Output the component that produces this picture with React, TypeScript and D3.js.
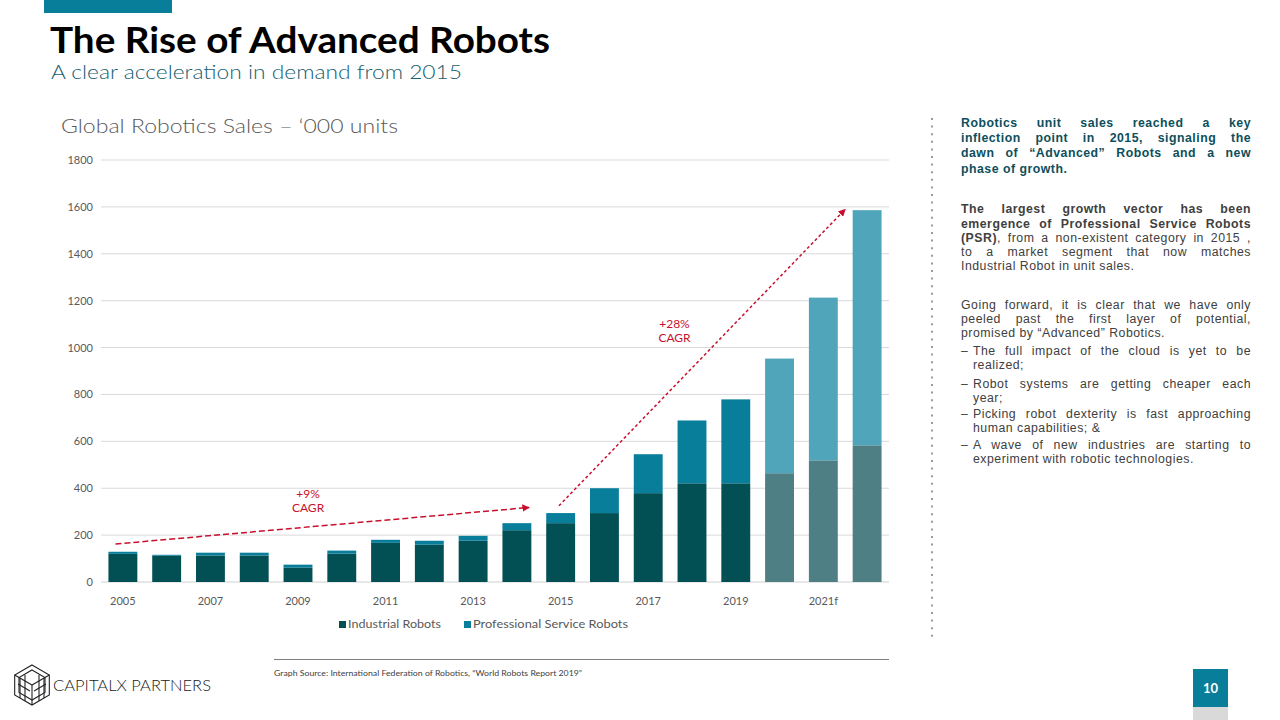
import React, { useEffect, useRef } from "react";
import * as d3 from "d3";

const categories = ["2005","2006","2007","2008","2009","2010","2011","2012","2013","2014","2015","2016","2017","2018","2019","2020f","2021f","2022f"];
const tickLabels = ["2005","2007","2009","2011","2013","2015","2017","2019","2021f"];
const industrial = [120,112,113,113,61,121,167,159,176,221,251,294,379,421,421,464,519,583];
const professional = [9,4,12,12,13,13,13,17,21,30,43,106,166,268,358,489,694,1003];
const forecast = [false,false,false,false,false,false,false,false,false,false,false,false,false,false,false,true,true,true];
const yTicks = [0,200,400,600,800,1000,1200,1400,1600,1800];

// CAGR annotations (category index position, value)
const arrows = [
  { x0: -0.17, y0: 162, x1: 9.28, y1: 318, dash: "6,3" },
  { x0: 9.96, y0: 325, x1: 16.5, y1: 1590, dash: "3,2.5" },
];
const cagrLabels = [
  { x: 4.23, y: 360, lines: ["+9%", "CAGR"] },
  { x: 12.6, y: 1085, lines: ["+28%", "CAGR"] },
];

const COLORS = {
  ind: "#024f54",
  psr: "#087e9b",
  indF: "#4d7f84",
  psrF: "#50a5ba",
  red: "#c8102e",
  grid: "#d9d9d9",
  axisText: "#595959",
};

type Seg = { t: string; b?: boolean };
type Line = { segs: Seg[]; x: number; y: number; j: boolean; color: string; dash?: boolean };

const RX = 961;
const RW = 290;
const IND = 12;
const para1Color = "#0d4f5c";
const bodyColor = "#404040";
const rightLines: Line[] = [
  { segs: [{ t: "Robotics unit sales reached a key", b: true }], x: RX, y: 127, j: true, color: para1Color },
  { segs: [{ t: "inflection point in 2015, signaling the", b: true }], x: RX, y: 142, j: true, color: para1Color },
  { segs: [{ t: "dawn of \u201CAdvanced\u201D Robots and a new", b: true }], x: RX, y: 157, j: true, color: para1Color },
  { segs: [{ t: "phase of growth.", b: true }], x: RX, y: 173, j: false, color: para1Color },
  { segs: [{ t: "The largest growth vector has been", b: true }], x: RX, y: 213, j: true, color: bodyColor },
  { segs: [{ t: "emergence of Professional Service Robots", b: true }], x: RX, y: 228, j: true, color: bodyColor },
  { segs: [{ t: "(PSR)", b: true }, { t: ", from a non-existent category in 2015 ," }], x: RX, y: 242, j: true, color: bodyColor },
  { segs: [{ t: "to a market segment that now matches" }], x: RX, y: 256, j: true, color: bodyColor },
  { segs: [{ t: "Industrial Robot in unit sales." }], x: RX, y: 270, j: false, color: bodyColor },
  { segs: [{ t: "Going forward, it is clear that we have only" }], x: RX, y: 309, j: true, color: bodyColor },
  { segs: [{ t: "peeled past the first layer of potential," }], x: RX, y: 323, j: true, color: bodyColor },
  { segs: [{ t: "promised by \u201CAdvanced\u201D Robotics." }], x: RX, y: 337, j: false, color: bodyColor },
  { segs: [{ t: "The full impact of the cloud is yet to be" }], x: RX + IND, y: 355, j: true, color: bodyColor, dash: true },
  { segs: [{ t: "realized;" }], x: RX + IND, y: 369, j: false, color: bodyColor },
  { segs: [{ t: "Robot systems are getting cheaper each" }], x: RX + IND, y: 388, j: true, color: bodyColor, dash: true },
  { segs: [{ t: "year;" }], x: RX + IND, y: 402, j: false, color: bodyColor },
  { segs: [{ t: "Picking robot dexterity is fast approaching" }], x: RX + IND, y: 418, j: true, color: bodyColor, dash: true },
  { segs: [{ t: "human capabilities; &" }], x: RX + IND, y: 432, j: false, color: bodyColor },
  { segs: [{ t: "A wave of new industries are starting to" }], x: RX + IND, y: 449, j: true, color: bodyColor, dash: true },
  { segs: [{ t: "experiment with robotic technologies." }], x: RX + IND, y: 463, j: false, color: bodyColor },
];

const FONT = "Lato, 'Noto Sans', sans-serif";
const BODY_FONT = "'Liberation Sans', Arial, sans-serif";
const BODY_SIZE = 12.3;

export default function App() {
  const ref = useRef<SVGSVGElement>(null);

  const x = d3.scaleBand<string>().domain(categories).range([101, 889]).paddingInner(0.34).paddingOuter(0.17);
  const y = d3.scaleLinear().domain([0, 1800]).range([582, 160]);
  const xPos = (i: number) => (x(categories[0]) as number) + x.bandwidth() / 2 + i * x.step();

  useEffect(() => {
    const svg = ref.current;
    if (!svg) return;
    svg.querySelectorAll<SVGTextElement>("text[data-jw]").forEach((el) => {
      el.style.wordSpacing = "0px";
      const target = +el.getAttribute("data-jw")!;
      const len = el.getComputedTextLength();
      const txt = el.textContent || "";
      const spaces = (txt.match(/ /g) || []).length;
      if (spaces > 0) el.style.wordSpacing = `${(target - len) / spaces}px`;
    });
  }, []);

  const stacks = categories.map((c, i) => ({
    c,
    i,
    ind: industrial[i],
    psr: professional[i],
    f: forecast[i],
  }));

  const hex = d3.range(6).map((k) => {
    const a = (Math.PI / 3) * k - Math.PI / 2;
    return [32 + 20 * Math.cos(a), 685 + 20 * Math.sin(a)];
  });

  return (
    <svg ref={ref} width={1280} height={720} style={{ position: "absolute", left: 0, top: 0, background: "#fff" }} fontFamily={FONT}>
      <defs>
        <marker id="ah" viewBox="0 0 10 10" refX="9" refY="5" markerWidth="5" markerHeight="5" orient="auto" markerUnits="strokeWidth">
          <path d="M0,0 L10,5 L0,10 z" fill={COLORS.red} />
        </marker>
      </defs>
      {/* header */}
      <rect x={44} y={0} width={128} height={13} fill="#087e9b" />
      <text x={50} y={53} fontSize={36} fontWeight={700} fill="#000" textLength={500} lengthAdjust="spacingAndGlyphs">The Rise of Advanced Robots</text>
      <text x={51} y={79} fontSize={19} fontWeight={300} fill="#15606f" textLength={411} lengthAdjust="spacingAndGlyphs">A clear acceleration in demand from 2015</text>

      {/* chart title */}
      <text x={61} y={133} fontSize={19} fontWeight={300} fill="#595959" textLength={337} lengthAdjust="spacingAndGlyphs">Global Robotics Sales – ‘000 units</text>

      {/* grid */}
      {yTicks.map((t) => (
        <g key={t}>
          <line x1={101} x2={889} y1={y(t)} y2={y(t)} stroke={t === 0 ? "#d0d0d0" : COLORS.grid} strokeWidth={1} />
          <text x={93} y={y(t) + 4} fontSize={11} textAnchor="end" fill={COLORS.axisText}>{t}</text>
        </g>
      ))}

      {/* bars */}
      {stacks.map((s) => (
        <g key={s.c}>
          <rect x={x(s.c)} width={x.bandwidth()} y={y(s.ind)} height={y(0) - y(s.ind)} fill={s.f ? COLORS.indF : COLORS.ind} />
          <rect x={x(s.c)} width={x.bandwidth()} y={y(s.ind + s.psr)} height={y(s.ind) - y(s.ind + s.psr)} fill={s.f ? COLORS.psrF : COLORS.psr} />
        </g>
      ))}

      {/* x labels */}
      {categories.map((c, i) =>
        tickLabels.includes(c) ? (
          <text key={c} x={(x(c) as number) + x.bandwidth() / 2} y={605} fontSize={11} textAnchor="middle" fill={COLORS.axisText}>{c}</text>
        ) : null
      )}

      {/* CAGR arrows */}
      {arrows.map((a, k) => (
        <line key={k} x1={xPos(a.x0)} y1={y(a.y0)} x2={xPos(a.x1)} y2={y(a.y1)} stroke={COLORS.red} strokeWidth={1.5} strokeDasharray={a.dash} markerEnd="url(#ah)" />
      ))}
      {cagrLabels.map((l, k) => (
        <text key={k} x={xPos(l.x)} y={y(l.y)} fontSize={12} textAnchor="middle" fill={COLORS.red}>
          {l.lines.map((t, j) => (
            <tspan key={j} x={xPos(l.x)} dy={j === 0 ? 0 : 14}>{t}</tspan>
          ))}
        </text>
      ))}

      {/* legend */}
      <rect x={339} y={621} width={7} height={7} fill={COLORS.ind} />
      <text x={348} y={628} fontSize={11.5} fill={COLORS.axisText} textLength={93} lengthAdjust="spacingAndGlyphs">Industrial Robots</text>
      <rect x={464} y={621} width={7} height={7} fill={COLORS.psr} />
      <text x={473} y={628} fontSize={11.5} fill={COLORS.axisText} textLength={155} lengthAdjust="spacingAndGlyphs">Professional Service Robots</text>

      {/* footer source */}
      <line x1={274} x2={889} y1={659.5} y2={659.5} stroke="#7f7f7f" strokeWidth={1} />
      <text x={274} y={676} fontSize={7.5} fill="#404040" textLength={308} lengthAdjust="spacingAndGlyphs">Graph Source: International Federation of Robotics, “World Robots Report 2019”</text>

      {/* dotted divider */}
      <line x1={932} x2={932} y1={118} y2={638} stroke="#9a9a9a" strokeWidth={2} strokeDasharray="2,5.6" />

      {/* right text */}
      <g fontFamily={BODY_FONT} letterSpacing={0.5}>
        {rightLines.map((l, k) => (
          <g key={k}>
            {l.dash ? (
              <text x={RX} y={l.y} fontSize={BODY_SIZE} fill={l.color}>{"\u2013"}</text>
            ) : null}
            <text x={l.x} y={l.y} fontSize={BODY_SIZE} fill={l.color} data-jw={l.j ? RX + RW - l.x : undefined}>
              {l.segs.map((s, j) => (
                <tspan key={j} fontWeight={s.b ? 700 : 400}>{s.t}</tspan>
              ))}
            </text>
          </g>
        ))}
      </g>

      {/* logo */}
      <g fill="none" stroke="#222" strokeWidth={1.1}>
        <polygon points={hex.map((p) => p.join(",")).join(" ")} />
        <polygon points={hex.map(([px, py]) => `${32 + (px - 32) * 0.75},${685 + (py - 685) * 0.75}`).join(" ")} />
        <line x1={32} y1={685} x2={32} y2={705} />
        <line x1={32} y1={685} x2={14.7} y2={675} />
        <line x1={32} y1={685} x2={49.3} y2={675} />
        <line x1={20} y1={678} x2={20} y2={698} />
        <line x1={25} y1={675} x2={25} y2={701} />
        <line x1={39} y1={675} x2={39} y2={701} />
        <line x1={44} y1={678} x2={44} y2={698} />
        <line x1={18} y1={684} x2={30} y2={691} />
        <line x1={34} y1={691} x2={46} y2={684} />
      </g>
      <text x={53} y={691} fontSize={15.5} fill="#222" fontWeight={300} textLength={158} lengthAdjust="spacingAndGlyphs">CAPITALX PARTNERS</text>

      {/* page number */}
      <rect x={1193} y={669} width={35} height={38} fill="#087e9b" />
      <rect x={1193} y={707} width={35} height={13} fill="#d9d9d9" />
      <text x={1210.5} y={693} fontSize={13} fontWeight={700} fill="#fff" textAnchor="middle">10</text>
    </svg>
  );
}
